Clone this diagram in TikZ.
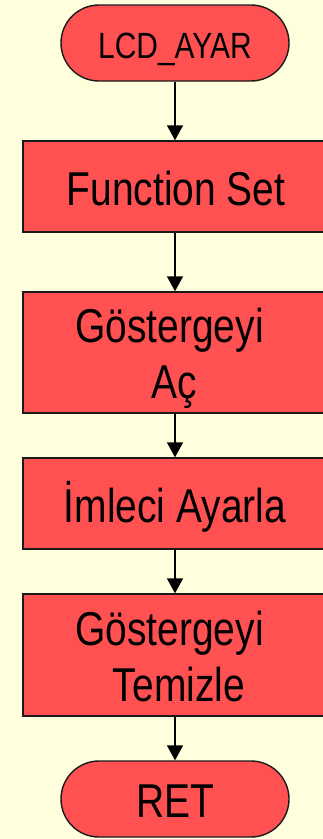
\documentclass[tikz,border=0pt]{standalone}
\usepackage{fontspec}
\usetikzlibrary{arrows.meta}
\newfontfamily\boxfont[FakeStretch=0.82]{Liberation Sans}
\definecolor{paper}{HTML}{FFFFDD}
\definecolor{boxred}{HTML}{FF5151}
\definecolor{edge}{HTML}{1A1A1A}
\tikzset{
  terminal/.style={draw=edge, line width=1.4pt, fill=boxred,
    rounded corners=38pt, minimum width=228pt, minimum height=76pt, inner sep=0pt},
  process/.style={draw=edge, line width=1.4pt, fill=boxred,
    minimum width=304pt, inner sep=0pt},
  lbl/.style={anchor=base, inner sep=0pt, text=black, font=\boxfont\fontsize{47.5}{56}\selectfont},
  flow/.style={draw=black, line width=1.4pt, -{Triangle[width=16pt,length=15pt]}}
}
\begin{document}
\begin{tikzpicture}[x=1pt, y=-1pt]
  \useasboundingbox (0,0) rectangle (323,839);
  \clip (0,0) rectangle (323,839);
  \fill[paper] (0,0) rectangle (323,839);

  % flowchart elements
  \node[terminal] (start) at (175,43) {};
  \node[process, minimum height=91pt]  (fset)  at (175,186.5) {};
  \node[process, minimum height=121pt] (dispon) at (175,352.5) {};
  \node[process, minimum height=91pt]  (cursor) at (175,503.5) {};
  \node[process, minimum height=122pt] (clear) at (175,655) {};
  \node[terminal] (ret) at (175,799) {};

  % labels
  \node[lbl, font=\boxfont\fontsize{36.5}{43}\selectfont] (tstart) at (175,58) {LCD\_AYAR};
  \node[lbl] (tfset) at (176,205) {Function Set};
  \node[lbl] (tdispa) at (169.5,342) {Göstergeyi};
  \node[lbl] (tdispb) at (174.5,398) {Aç};
  \node[lbl] (tcursor) at (175,522) {İmleci Ayarla};
  \node[lbl] (tclra) at (169.5,645) {Göstergeyi};
  \node[lbl] (tclrb) at (179,701) {Temizle};
  \node[lbl] (tret) at (175,817) {RET};

  % connectors
  \draw[flow] (start.south) -- (fset.north);
  \draw[flow] (fset.south) -- (dispon.north);
  \draw[flow] (dispon.south) -- (cursor.north);
  \draw[flow] (cursor.south) -- (clear.north);
  \draw[flow] (clear.south) -- (ret.north);
\end{tikzpicture}
\end{document}
